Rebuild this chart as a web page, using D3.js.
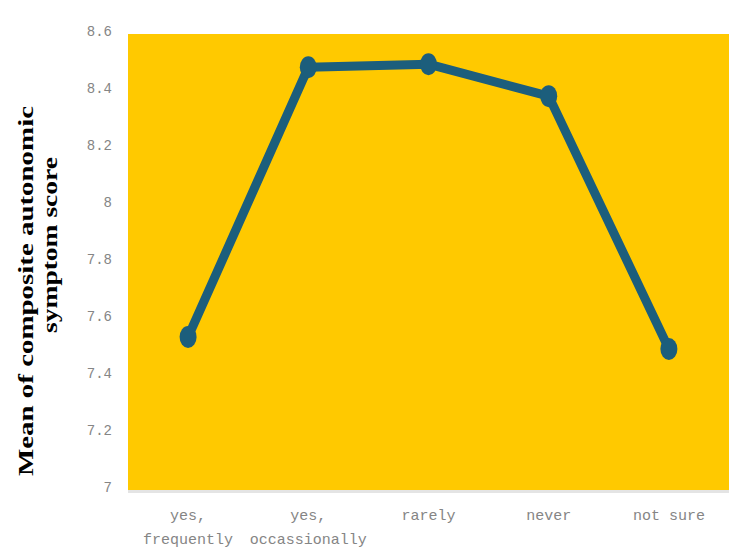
<!DOCTYPE html>
<html>
<head>
<meta charset="utf-8">
<script src="https://cdn.jsdelivr.net/npm/d3@7"></script>
<style>
  body { margin: 0; background: #fff; }
  .tick text { font-family: "Liberation Mono", "DejaVu Sans Mono", monospace; fill: #858585; }
</style>
</head>
<body>
<svg id="chart" width="750" height="554"></svg>
<script>
var categories = ["yes,|frequently", "yes,|occassionally", "rarely", "never", "not sure"];
var means = [7.537, 8.483, 8.494, 8.382, 7.495];
var yTicks = [7, 7.2, 7.4, 7.6, 7.8, 8, 8.2, 8.4, 8.6];

var svg = d3.select("#chart"),
    margin = {top: 34, right: 21, bottom: 64, left: 128},
    width = +svg.attr("width") - margin.left - margin.right,
    height = +svg.attr("height") - margin.top - margin.bottom;

var x = d3.scaleBand().domain(categories).range([0, width]);
var y = d3.scaleLinear().domain([7, 8.6]).range([height, 0]);

var g = svg.append("g").attr("transform", "translate(" + margin.left + "," + margin.top + ")");

// faint shadow under the plot
g.append("rect")
    .attr("x", 0).attr("y", height)
    .attr("width", width).attr("height", 3)
    .attr("fill", "#e4e4e4");

g.append("rect")
    .attr("width", width).attr("height", height)
    .attr("fill", "#ffc900");

var yAxis = g.append("g")
    .attr("transform", "translate(-13,0)")
    .call(d3.axisLeft(y).tickValues(yTicks).tickSize(0).tickFormat(d3.format("")));
yAxis.select(".domain").remove();
yAxis.selectAll("text").attr("font-size", 14).attr("dy", "0.1em");

var xAxis = g.append("g")
    .attr("transform", "translate(0," + height + ")")
    .call(d3.axisBottom(x).tickSize(0));
xAxis.select(".domain").remove();
xAxis.selectAll("text").remove();
xAxis.selectAll(".tick").append("text")
    .attr("font-size", 15)
    .attr("text-anchor", "middle")
    .attr("y", 30)
    .selectAll("tspan")
    .data(function(d) { return d.split("|"); })
    .enter().append("tspan")
      .attr("x", 0)
      .attr("dy", function(d, i) { return i ? "1.6em" : 0; })
      .text(function(d) { return d; });

var line = d3.line()
    .x(function(d, i) { return x(categories[i]) + x.bandwidth() / 2; })
    .y(function(d) { return y(d); });

g.append("path")
    .datum(means)
    .attr("d", line)
    .attr("fill", "none")
    .attr("stroke", "#1c5e7c")
    .attr("stroke-width", 9)
    .attr("stroke-linejoin", "round");

g.selectAll(".dot")
    .data(means)
    .enter().append("ellipse")
    .attr("class", "dot")
    .attr("cx", function(d, i) { return x(categories[i]) + x.bandwidth() / 2; })
    .attr("cy", function(d) { return y(d); })
    .attr("rx", 8.5)
    .attr("ry", 11)
    .attr("fill", "#1c5e7c");

// y title
var title = svg.append("text")
    .attr("transform", "rotate(-90)")
    .attr("font-family", "'Liberation Serif', 'Times New Roman', serif")
    .attr("font-weight", "bold")
    .attr("font-size", 22)
    .attr("text-anchor", "middle");
title.append("tspan").attr("x", -291).attr("y", 33)
    .attr("textLength", 370).attr("lengthAdjust", "spacingAndGlyphs")
    .text("Mean of composite autonomic");
title.append("tspan").attr("x", -245).attr("y", 57)
    .attr("textLength", 176).attr("lengthAdjust", "spacingAndGlyphs")
    .text("symptom score");
</script>
</body>
</html>
